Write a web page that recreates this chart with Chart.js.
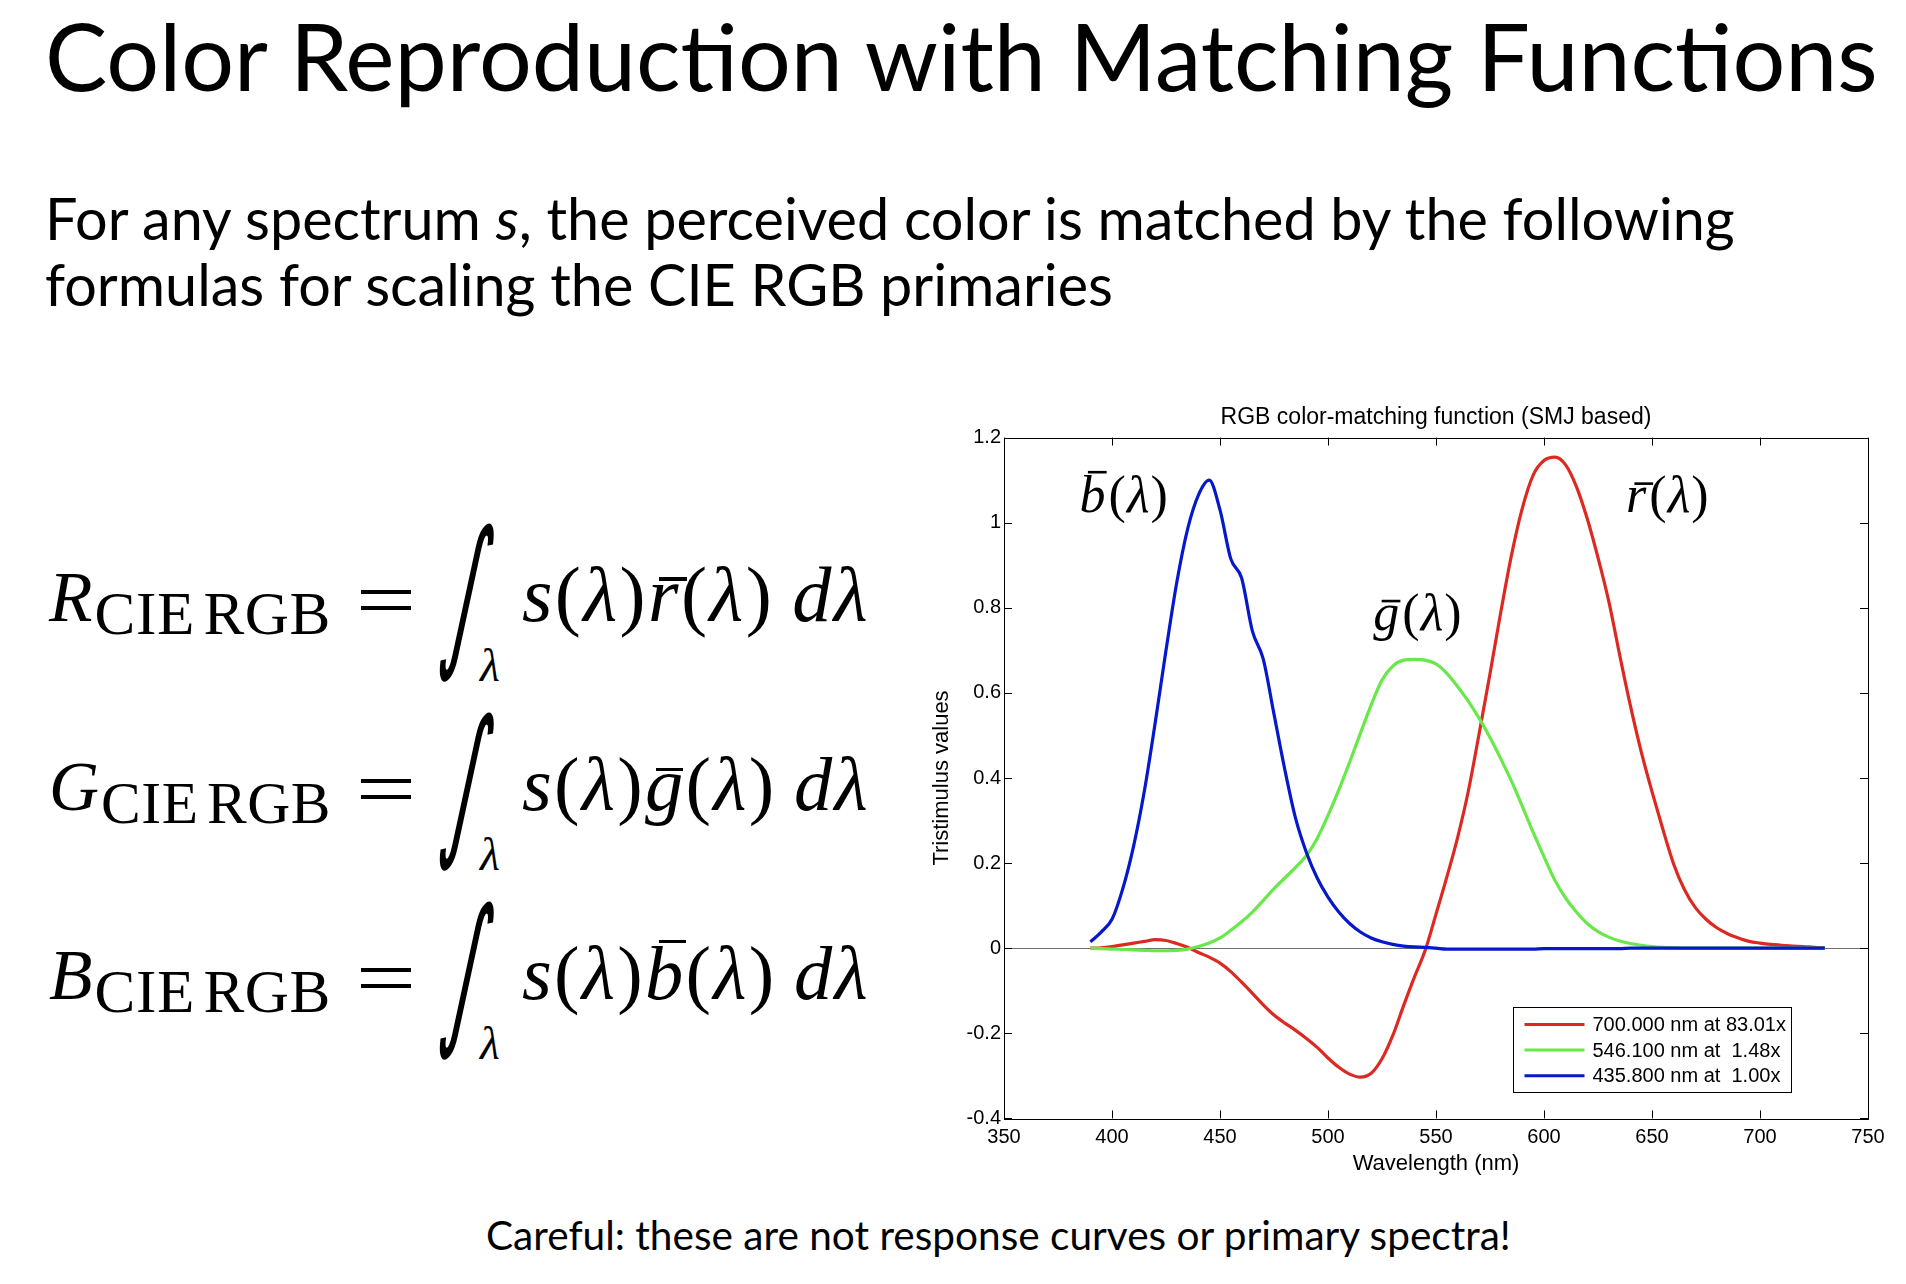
<!DOCTYPE html>
<html>
<head>
<meta charset="utf-8">
<title>Color Reproduction with Matching Functions</title>
<script src="https://cdn.jsdelivr.net/npm/chart.js@4.4.1/dist/chart.umd.min.js"></script>
<style>
  html, body { margin: 0; padding: 0; background: #fff; }
  body { width: 1906px; height: 1284px; position: relative; overflow: hidden; color: #000; font-family: Lato, "Noto Sans", sans-serif; }
  .txt { position: absolute; white-space: nowrap; line-height: 1; }
  .eq { font-family: "Liberation Serif", "DejaVu Serif", serif; font-size: 66px; letter-spacing: 0.03em; }
  .eq .sub { font-size: 0.86em; position: relative; top: 0.22em; word-spacing: -0.12em; letter-spacing: 0.01em; }
  .ov { position: relative; display: inline-block; }
  .ov::after { content: ""; position: absolute; left: 0.14em; width: 0.36em; height: 0.045em; background: #000; top: 0.27em; }
  .ov.tall::after { top: 0.05em; left: 0.18em; }
  .equals { position: absolute; width: 50px; height: 12px; border-top: 4px solid #000; border-bottom: 4px solid #000; }
  .int { font-family: "DejaVu Sans", sans-serif; font-size: 130px; }
  .lam { font-family: "Liberation Serif", serif; font-size: 46px; font-style: italic; }
  #chartBox { position: absolute; left: 920px; top: 380px; width: 986px; height: 800px; }
</style>
</head>
<body>

<div class="txt" id="title">Color Reproduction with Matching Functions</div>
<div class="txt" id="sub1">For any spectrum <i>s</i>, the perceived color is matched by the following</div>
<div class="txt" id="sub2">formulas for scaling the CIE RGB primaries</div>

<div class="txt eq" id="lhs0"><i>R</i><span class="sub">CIE RGB</span></div>
<div class="txt eq" id="lhs1"><i>G</i><span class="sub">CIE RGB</span></div>
<div class="txt eq" id="lhs2"><i>B</i><span class="sub">CIE RGB</span></div>
<div class="equals" id="eq0"></div>
<div class="equals" id="eq1"></div>
<div class="equals" id="eq2"></div>
<div class="txt int" id="int0">∫</div>
<div class="txt int" id="int1">∫</div>
<div class="txt int" id="int2">∫</div>
<div class="txt lam" id="lam0">λ</div>
<div class="txt lam" id="lam1">λ</div>
<div class="txt lam" id="lam2">λ</div>
<div class="txt eq" id="rhs0"><i>s</i>(<i>λ</i>)<span class="ov"><i>r</i></span>(<i>λ</i>)&#8201;<i>d</i><i>λ</i></div>
<div class="txt eq" id="rhs1"><i>s</i>(<i>λ</i>)<span class="ov"><i>g</i></span>(<i>λ</i>)&#8201;<i>d</i><i>λ</i></div>
<div class="txt eq" id="rhs2"><i>s</i>(<i>λ</i>)<span class="ov tall"><i>b</i></span>(<i>λ</i>)&#8201;<i>d</i><i>λ</i></div>

<div id="chartBox"><canvas id="cmf"></canvas></div>

<div class="txt" id="caption">Careful: these are not response curves or primary spectra!</div>

<script>
// wavelength samples (nm)
const wavelengths = [
  390, 395, 400, 405, 410, 415, 420, 425, 430, 435, 440, 445, 450, 455, 460, 465, 470, 475,
  480, 485, 490, 495, 500, 505, 510, 515, 520, 525, 530, 535, 540, 545, 550, 555, 560, 565,
  570, 575, 580, 585, 590, 595, 600, 605, 610, 615, 620, 625, 630, 635, 640, 645, 650, 655,
  660, 665, 670, 675, 680, 685, 690, 695, 700, 705, 710, 715, 720, 725, 730
];

// r-bar (700 nm primary)
const rBar = [
  0.000, 0.001, 0.004, 0.008, 0.012, 0.016, 0.020, 0.018, 0.011, 0.002, -0.010, -0.021, -0.035, -0.055, -0.080, -0.106, -0.133, -0.157,
  -0.176, -0.193, -0.212, -0.233, -0.258, -0.280, -0.296, -0.303, -0.294, -0.260, -0.205, -0.135, -0.068, -0.005, 0.080, 0.167, 0.260, 0.370,
  0.505, 0.645, 0.790, 0.925, 1.035, 1.112, 1.146, 1.154, 1.136, 1.085, 1.010, 0.918, 0.815, 0.690, 0.570, 0.462, 0.368, 0.280,
  0.198, 0.138, 0.096, 0.068, 0.048, 0.034, 0.024, 0.016, 0.012, 0.009, 0.007, 0.005, 0.004, 0.002, 0.001
];

// g-bar (546.1 nm primary)
const gBar = [
  0.000, -0.001, -0.002, -0.003, -0.004, -0.005, -0.006, -0.006, -0.005, -0.002, 0.004, 0.012, 0.024, 0.042, 0.062, 0.085, 0.112, 0.140,
  0.165, 0.190, 0.218, 0.258, 0.312, 0.372, 0.437, 0.505, 0.572, 0.630, 0.663, 0.677, 0.679, 0.677, 0.668, 0.646, 0.615, 0.580,
  0.540, 0.495, 0.445, 0.392, 0.333, 0.272, 0.215, 0.160, 0.118, 0.085, 0.058, 0.039, 0.026, 0.017, 0.011, 0.007, 0.004, 0.002,
  0.001, 0.000, 0.000, 0.000, 0.000, 0.000, 0.000, 0.000, 0.000, 0.000, 0.000, 0.000, 0.000, 0.000, 0.000
];

// b-bar (435.8 nm primary)
const bBar = [
  0.015, 0.038, 0.068, 0.140, 0.240, 0.370, 0.530, 0.700, 0.860, 0.985, 1.065, 1.100, 1.030, 0.915, 0.870, 0.745, 0.680, 0.550,
  0.420, 0.305, 0.225, 0.165, 0.120, 0.085, 0.058, 0.038, 0.024, 0.015, 0.009, 0.005, 0.003, 0.002, 0.000, -0.002, -0.002, -0.002,
  -0.002, -0.002, -0.002, -0.002, -0.002, -0.002, -0.001, -0.001, -0.001, -0.001, -0.001, -0.001, -0.001, -0.001, 0.000, 0.000, 0.000, 0.000,
  0.000, 0.000, 0.000, 0.000, 0.000, 0.000, 0.000, 0.000, 0.000, 0.000, 0.000, 0.000, 0.000, 0.000, 0.000
];

const seriesLabels = ['700.000 nm at 83.01x', '546.100 nm at  1.48x', '435.800 nm at  1.00x'];
const seriesColors = ['rgb(220, 42, 34)', 'rgb(104, 232, 74)', 'rgb(6, 24, 204)'];

const xTicks = [350, 400, 450, 500, 550, 600, 650, 700, 750];
const yTicks = [-0.4, -0.2, 0, 0.2, 0.4, 0.6, 0.8, 1, 1.2];

// ---- slide text placement ----
function baselineOf(el) {
  const m = document.createElement('span');
  m.style.cssText = 'display:inline-block;width:0;height:0;vertical-align:baseline';
  el.appendChild(m);
  const b = m.getBoundingClientRect().bottom - el.getBoundingClientRect().top;
  el.removeChild(m);
  return b;
}

function place(id, left, baseline, width) {
  const el = document.getElementById(id);
  el.style.left = left + 'px';
  el.style.top = '0px';
  if (width) {
    const w = el.getBoundingClientRect().width;
    const fs = parseFloat(getComputedStyle(el).fontSize);
    el.style.fontSize = (fs * width / w) + 'px';
  }
  el.style.top = (baseline - baselineOf(el)) + 'px';
  return el;
}

// stretch a single glyph so that its ink fills the box [x0, y0, x1, y1], slanted by `slant` degrees
function fitGlyph(id, x0, y0, x1, y1, slant) {
  const el = document.getElementById(id);
  const fam = getComputedStyle(el).fontFamily;
  const c = document.createElement('canvas').getContext('2d');
  c.font = `100px ${fam}`;
  const m = c.measureText(el.textContent);
  const inkH = m.actualBoundingBoxAscent + m.actualBoundingBoxDescent;
  const inkW = m.actualBoundingBoxLeft + m.actualBoundingBoxRight;
  const fs = 100 * (y1 - y0) / inkH;
  const k = fs / 100;
  const lean = (y1 - y0) * Math.tan(slant * Math.PI / 180);
  const targetW = (x1 - x0) - lean;
  el.style.fontSize = fs + 'px';
  el.style.left = (x0 + lean / 2 + m.actualBoundingBoxLeft * k) + 'px';
  el.style.top = '0px';
  const top = y0 + m.actualBoundingBoxAscent * k - baselineOf(el);
  el.style.top = top + 'px';
  el.style.transformOrigin = `${-m.actualBoundingBoxLeft * k}px ${(y0 + y1) / 2 - top}px`;
  el.style.transform = `skewX(${-slant}deg) scaleX(${targetW / (inkW * k)})`;
}

document.getElementById('title').style.fontSize = '94px';
document.getElementById('sub1').style.fontSize = '58px';
document.getElementById('caption').style.fontSize = '44px';

place('title', 45, 91, 1833);
const sub1 = place('sub1', 45, 240, 1690);
document.getElementById('sub2').style.fontSize = sub1.style.fontSize;
place('sub2', 45, 306);
place('caption', 486, 1250, 1025);

const eqBaselines = [621, 810, 999];
eqBaselines.forEach((b, i) => {
  place('lhs' + i, 49, b, 282);
  const e = document.getElementById('eq' + i);
  e.style.left = '361px';
  e.style.top = (b - 31) + 'px';
  fitGlyph('int' + i, 436, b - 98, 498, b + 62, 11);
  place('lam' + i, 480, b + 60);
  place('rhs' + i, 522, b, 348);
});

// ---- chart ----
Chart.defaults.font.family = '"Liberation Sans", Arial, Helvetica, sans-serif';
Chart.defaults.color = '#000';

const toPoints = vals => wavelengths.map((w, i) => ({ x: w, y: vals[i] }));

const frameTicks = {
  id: 'frameTicks',
  afterDatasetsDraw(chart) {
    const { ctx, chartArea: a, scales: { x, y } } = chart;
    const len = 8;
    ctx.save();
    ctx.strokeStyle = '#000';
    ctx.lineWidth = 1;
    ctx.beginPath();
    x.ticks.forEach(t => {
      const px = Math.round(x.getPixelForValue(t.value)) + 0.5;
      ctx.moveTo(px, a.bottom); ctx.lineTo(px, a.bottom - len);
      ctx.moveTo(px, a.top); ctx.lineTo(px, a.top + len);
    });
    y.ticks.forEach(t => {
      const py = Math.round(y.getPixelForValue(t.value)) + 0.5;
      ctx.moveTo(a.left, py); ctx.lineTo(a.left + len, py);
      ctx.moveTo(a.right, py); ctx.lineTo(a.right - len, py);
    });
    ctx.stroke();
    ctx.strokeRect(Math.round(a.left) + 0.5, Math.round(a.top) + 0.5, Math.round(a.width), Math.round(a.height));
    ctx.restore();
  }
};

// curve names, anchored in data coordinates (left edge, baseline)
const curveNames = [
  { letter: 'b', x: 385, y: 1.024, tall: true },
  { letter: 'g', x: 521, y: 0.748, tall: false },
  { letter: 'r', x: 638, y: 1.024, tall: false }
];

const curveLabels = {
  id: 'curveLabels',
  afterDatasetsDraw(chart) {
    const { ctx, scales: { x, y } } = chart;
    const size = 52;
    const serif = '"Liberation Serif", "DejaVu Serif", serif';
    ctx.save();
    ctx.fillStyle = '#000';
    ctx.textBaseline = 'alphabetic';
    curveNames.forEach(n => {
      let px = x.getPixelForValue(n.x);
      const py = y.getPixelForValue(n.y);
      const parts = [[n.letter, 'italic'], ['(', 'normal'], ['λ', 'italic'], [')', 'normal']];
      parts.forEach(([s, style], k) => {
        ctx.font = `${style} ${size}px ${serif}`;
        const w = ctx.measureText(s).width;
        ctx.fillText(s, px, py);
        if (k === 0) {
          const barY = py - (n.tall ? 0.8 : 0.58) * size;
          ctx.fillRect(px + 0.16 * size, barY, 0.36 * size, 0.05 * size);
        }
        px += w + (k === 0 ? 3 : 1);
      });
    });
    ctx.restore();
  }
};

const insideLegend = {
  id: 'insideLegend',
  afterDraw(chart) {
    const { ctx, chartArea: a } = chart;
    const sets = chart.data.datasets;
    const rowH = 25.6, padY = 4.2, lineX0 = 11, lineX1 = 71, textX = 79;
    ctx.save();
    ctx.font = '20px "Liberation Sans", Arial, sans-serif';
    const textW = Math.max(...sets.map(d => ctx.measureText(d.label).width));
    const w = textX + textW + 6;
    const h = sets.length * rowH + 2 * padY;
    const right = a.right - 77, bottom = a.bottom - 26;
    const left = Math.round(right - w) + 0.5, top = Math.round(bottom - h) + 0.5;
    ctx.fillStyle = '#fff';
    ctx.fillRect(left, top, Math.round(w), Math.round(h));
    ctx.strokeStyle = '#000';
    ctx.lineWidth = 1;
    ctx.strokeRect(left, top, Math.round(w), Math.round(h));
    ctx.textBaseline = 'middle';
    sets.forEach((d, i) => {
      const cy = top + padY + rowH * (i + 0.5);
      ctx.strokeStyle = d.borderColor;
      ctx.lineWidth = 3;
      ctx.beginPath();
      ctx.moveTo(left + lineX0, cy);
      ctx.lineTo(left + lineX1, cy);
      ctx.stroke();
      ctx.fillStyle = '#000';
      ctx.fillText(d.label, left + textX, cy + 1);
    });
    ctx.restore();
  }
};

new Chart(document.getElementById('cmf'), {
  type: 'line',
  data: {
    datasets: [
      { label: seriesLabels[0], data: toPoints(rBar), borderColor: seriesColors[0], order: 3 },
      { label: seriesLabels[1], data: toPoints(gBar), borderColor: seriesColors[1], order: 2 },
      { label: seriesLabels[2], data: toPoints(bBar), borderColor: seriesColors[2], order: 1 }
    ]
  },
  options: {
    responsive: true,
    maintainAspectRatio: false,
    animation: false,
    devicePixelRatio: 1,
    layout: { padding: { left: 0, right: 38, top: 0, bottom: 0 } },
    elements: {
      point: { radius: 0 },
      line: { borderWidth: 3.2, fill: false, cubicInterpolationMode: 'monotone' }
    },
    plugins: {
      legend: { display: false },
      tooltip: { enabled: false },
      title: {
        display: true,
        fullSize: false,
        text: 'RGB color-matching function (SMJ based)',
        color: '#000',
        font: { size: 23, weight: 'normal', lineHeight: 1.2 },
        padding: { top: 24, bottom: 6 }
      }
    },
    scales: {
      x: {
        type: 'linear',
        min: 350,
        max: 750,
        afterFit: s => { s.height = 61.6; },
        afterBuildTicks: s => { s.ticks = xTicks.map(v => ({ value: v })); },
        grid: { display: false },
        border: { display: false },
        ticks: { font: { size: 20 }, padding: -1, maxRotation: 0, autoSkip: false },
        title: { display: true, text: 'Wavelength (nm)', font: { size: 22 }, padding: { top: 0, bottom: 3 } }
      },
      y: {
        type: 'linear',
        min: -0.4,
        max: 1.2,
        afterFit: s => { s.width = 84; },
        afterBuildTicks: s => { s.ticks = yTicks.map(v => ({ value: v })); },
        grid: {
          drawTicks: false,
          lineWidth: 1,
          color: ctx => (ctx.tick && Math.abs(ctx.tick.value) < 1e-9 ? '#707070' : 'rgba(0,0,0,0)')
        },
        border: { display: false },
        ticks: { font: { size: 20 }, padding: 3, callback: v => String(Math.round(v * 10) / 10) },
        title: { display: true, text: 'Tristimulus values', font: { size: 22 }, padding: { top: 9, bottom: 0 } }
      }
    }
  },
  plugins: [frameTicks, curveLabels, insideLegend]
});
</script>
</body>
</html>
